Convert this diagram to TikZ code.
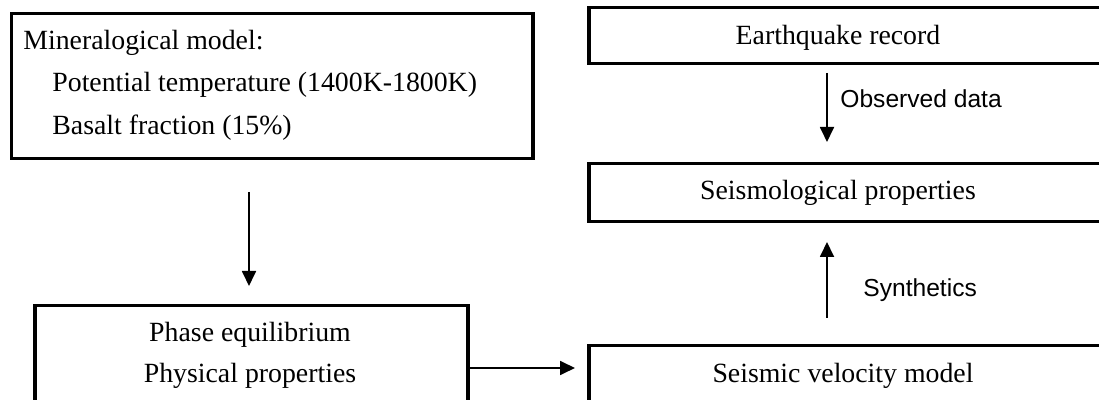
\documentclass[tikz,border=0pt]{standalone}
\usepackage{fontspec}
\setmainfont{Liberation Serif}
\setsansfont{Liberation Sans}
\usetikzlibrary{arrows.meta}
\tikzset{
  box/.style={draw, line width=1.75pt, rectangle, inner sep=0pt, anchor=north west},
  stxt/.style={font=\fontsize{13.9pt}{16pt}\selectfont, inner sep=0pt},
  ltxt/.style={font=\sffamily\fontsize{12.3pt}{14pt}\selectfont, inner sep=0pt},
  arr/.style={line width=0.9pt, -{Triangle[length=7.5pt,width=7pt]}}
}
\begin{document}
\begin{tikzpicture}[x=0.5pt,y=-0.5pt]
\useasboundingbox (0,0) rectangle (1099,400);
\clip (0,0) rectangle (1099,400);
% boxes
\node[box, minimum width=260.75pt, minimum height=72.5pt] (mineral) at (9.5,12) {};
\node[box, minimum width=216.5pt, minimum height=48.5pt] (phase) at (33,304) {};
\node[box, minimum width=281.5pt, minimum height=28pt] (eq) at (587,6) {};
\node[box, minimum width=281.5pt, minimum height=29pt] (seis) at (587,162) {};
\node[box, minimum width=281.5pt, minimum height=28.5pt] (vel) at (587,344) {};
% texts
\node[stxt, anchor=base west] (m1) at (23,50) {Mineralogical model:};
\node[stxt, anchor=base west] (m2) at (52,92) {Potential temperature (1400K-1800K)};
\node[stxt, anchor=base west] (m3) at (52,135) {Basalt fraction (15\%)};
\node[stxt, anchor=base] (p1) at (250,342) {Phase equilibrium};
\node[stxt, anchor=base] (p2) at (250,383) {Physical properties};
\node[stxt, anchor=base] (eqt) at (838,45) {Earthquake record};
\node[stxt, anchor=base] (seist) at (838,200) {Seismological properties};
\node[stxt, anchor=base] (velt) at (843,383) {Seismic velocity model};
% arrow end points
\coordinate (a1s) at (249,192);
\coordinate (a1e) at (249,286);
\coordinate (a2e) at (575,368);
\coordinate (a3s) at (827,73);
\coordinate (a3e) at (827,142);
\coordinate (a4s) at (827,318);
\coordinate (a4e) at (827,242);
% connectors
\draw[arr] (a1s) -- (a1e);
\draw[arr] (phase.east |- a2e) -- (a2e);
\draw[arr] (a3s) -- (a3e);
\draw[arr] (a4s) -- (a4e);
% labels
\node[ltxt, anchor=base west] (obs) at (840,108) {Observed data};
\node[ltxt, anchor=base west] (syn) at (863,297) {Synthetics};
\end{tikzpicture}
\end{document}
